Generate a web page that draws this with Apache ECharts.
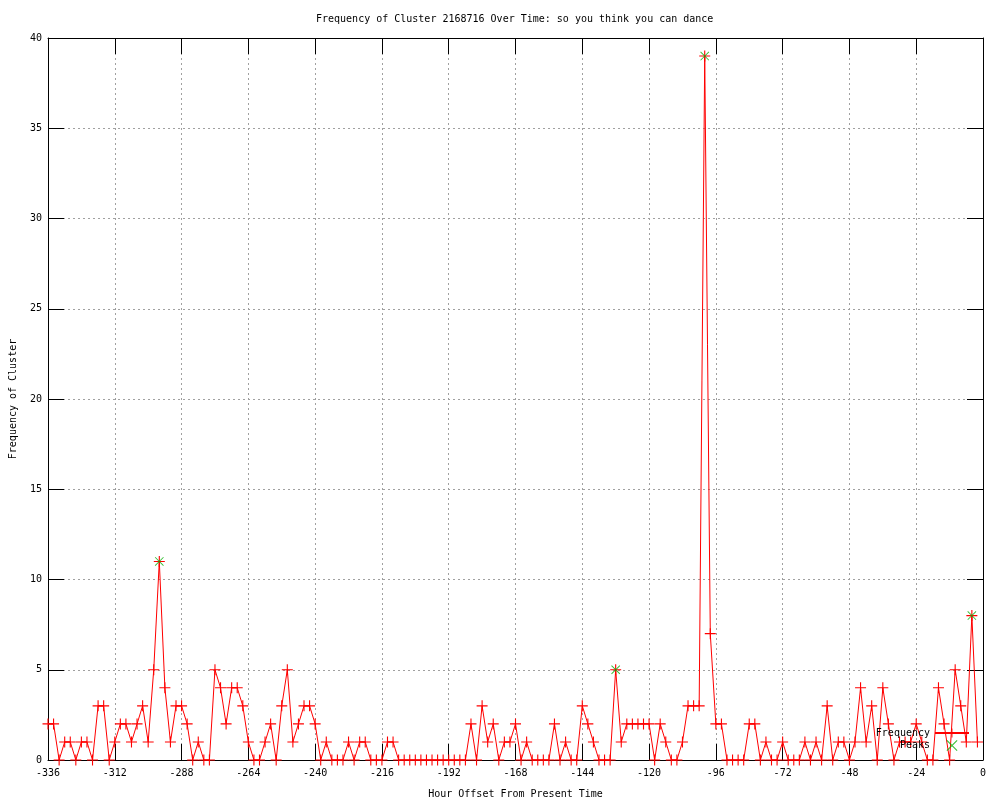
<!DOCTYPE html>
<html>
<head>
<meta charset="utf-8">
<script src="https://cdn.jsdelivr.net/npm/echarts@6/dist/echarts.min.js"></script>
<style>html,body{margin:0;padding:0;background:#fff}#c{width:1000px;height:800px}</style>
</head>
<body>
<div id="c"></div>
<script>
// Frequency per 2-hour bucket, starting at hour -336
const hourStart = -336;
const hourStep = 2;
const frequency = [
  2,2,0,1,1,0,1,1,0,3,
  3,0,1,2,2,1,2,3,1,5,
  11,4,1,3,3,2,0,1,0,0,
  5,4,2,4,4,3,1,0,0,1,
  2,0,3,5,1,2,3,3,2,0,
  1,0,0,0,1,0,1,1,0,0,
  0,1,1,0,0,0,0,0,0,0,
  0,0,0,0,0,0,2,0,3,1,
  2,0,1,1,2,0,1,0,0,0,
  0,2,0,1,0,0,3,2,1,0,
  0,0,5,1,2,2,2,2,2,0,
  2,1,0,0,1,3,3,3,39,7,
  2,2,0,0,0,0,2,2,0,1,
  0,0,1,0,0,0,1,0,1,0,
  3,0,1,1,0,1,4,1,3,0,
  4,2,0,1,1,1,2,1,0,0,
  4,2,0,5,3,1,8,1
];
const peakHours = [-296, -132, -100, -4];
const peakValues = [11, 5, 39, 8];
const xTicks = [-336, 0, 24];   // min, max, interval
const yTicks = [0, 40, 5];

const hours = frequency.map((_, i) => hourStart + i * hourStep);
const freqData = hours.map((h, i) => [h, frequency[i]]);
const peakData = peakHours.map((h, i) => [h, peakValues[i]]);

const FONT = 'DejaVu Sans Mono';
const plus = 'path://M0,4.5H10V5.5H0Z M4.5,0H5.5V10H4.5Z';
const cross = 'path://M0,0.7L0.7,0L10,9.3L9.3,10Z M9.3,0L10,0.7L0.7,10L0,9.3Z';
const gridLine = {show: true, lineStyle: {color: '#a0a0a0', width: 1, type: [2, 3]}};
const tick = {show: true, inside: true, length: 16, lineStyle: {color: '#000'}};
const axLine = {show: true, onZero: false, lineStyle: {color: '#000', width: 1}};
const lbl = {color: '#000', fontFamily: FONT, fontSize: 10};

const chart = echarts.init(document.getElementById('c'), null, {renderer: 'canvas'});
chart.setOption({
  animation: false,
  backgroundColor: '#fff',
  title: {
    text: 'Frequency of Cluster 2168716 Over Time: so you think you can dance',
    left: 316, top: 14, padding: 0,
    textStyle: {fontFamily: FONT, fontSize: 10, fontWeight: 'normal', color: '#000'}
  },
  grid: {left: 48, right: 17, top: 38, bottom: 40, containLabel: false, outerBoundsMode: 'none'},
  legend: {
    data: ['Frequency', 'Peaks'],
    orient: 'vertical', right: 30, top: 728, align: 'right',
    itemWidth: 34, itemHeight: 11, itemGap: 2, padding: 0,
    textStyle: {fontFamily: FONT, fontSize: 10, color: '#000', padding: [0, 0, 0, 0]}
  },
  xAxis: [{
    type: 'value', min: xTicks[0], max: xTicks[1], interval: xTicks[2],
    name: 'Hour Offset From Present Time', nameLocation: 'middle', nameGap: 29,
    nameTextStyle: {fontFamily: FONT, fontSize: 10, color: '#000'},
    axisLine: axLine, axisTick: tick, splitLine: gridLine,
    axisLabel: Object.assign({margin: 8}, lbl)
  }, {
    type: 'value', position: 'top', min: xTicks[0], max: xTicks[1], interval: xTicks[2],
    axisLine: axLine, axisTick: tick, splitLine: {show: false}, axisLabel: {show: false}
  }],
  yAxis: [{
    type: 'value', min: yTicks[0], max: yTicks[1], interval: yTicks[2],
    name: 'Frequency of Cluster', nameLocation: 'middle', nameGap: 30,
    nameTextStyle: {fontFamily: FONT, fontSize: 10, color: '#000'},
    axisLine: axLine, axisTick: tick, splitLine: gridLine,
    axisLabel: Object.assign({margin: 6}, lbl)
  }, {
    type: 'value', position: 'right', min: yTicks[0], max: yTicks[1], interval: yTicks[2],
    axisLine: axLine, axisTick: tick, splitLine: {show: false}, axisLabel: {show: false}
  }],
  series: [{
    name: 'Frequency', type: 'line', data: freqData,
    xAxisIndex: 0, yAxisIndex: 0,
    symbol: plus, symbolSize: 11, showSymbol: true, showAllSymbol: true,
    lineStyle: {color: '#ff0000', width: 1},
    itemStyle: {color: '#ff0000', borderWidth: 0},
    emphasis: {disabled: true}, clip: false
  }, {
    name: 'Peaks', type: 'scatter', data: peakData,
    xAxisIndex: 0, yAxisIndex: 0,
    symbol: cross, symbolSize: 9,
    itemStyle: {color: '#00b000', borderWidth: 0},
    emphasis: {disabled: true}, z: 3
  }]
});
</script>
</body>
</html>
